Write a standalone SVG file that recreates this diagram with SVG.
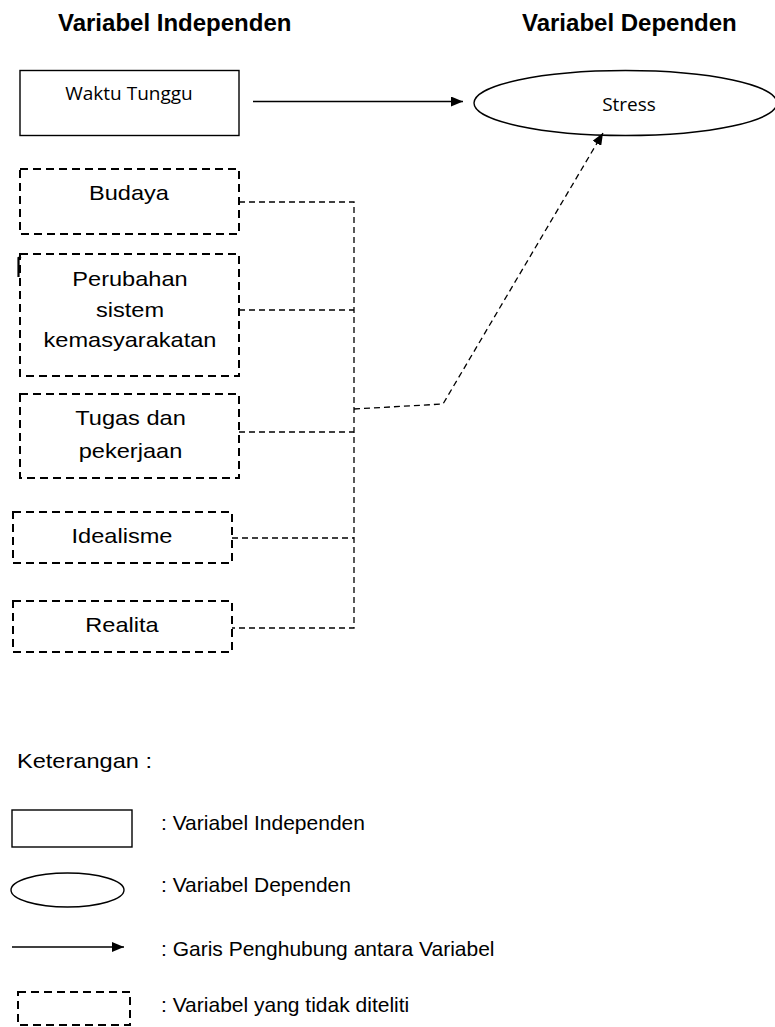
<svg xmlns="http://www.w3.org/2000/svg" width="775" height="1027" viewBox="0 0 775 1027">
<style>
.solid{fill:#fff;stroke:#000;stroke-width:1.4}
.dbox{fill:none;stroke:#000;stroke-width:2;stroke-dasharray:8 5}
.conn{fill:none;stroke:#000;stroke-width:1.3;stroke-dasharray:6 4}
.arr{fill:none;stroke:#000;stroke-width:1.5}
.t{font-family:"Liberation Sans",Arial,sans-serif;font-size:20.5px;fill:#000}
.lg{font-family:"Liberation Sans",Arial,sans-serif;font-size:21px;fill:#000}
.tc{text-anchor:middle}
.h{font-family:"Liberation Sans",Arial,sans-serif;font-size:24px;font-weight:bold;fill:#000}
.c{font-family:"Open Sans","Noto Sans",sans-serif;font-size:19px;fill:#000;text-anchor:middle}
</style>
<defs>
<marker id="ah" viewBox="0 0 12 10" refX="12" refY="5" markerWidth="12" markerHeight="10" markerUnits="userSpaceOnUse" orient="auto">
<path d="M0 0 L12 5 L0 10 Z" fill="#000"/>
</marker>
</defs>
<rect width="775" height="1027" fill="#fff"/>
<text class="h" x="58" y="31">Variabel Independen</text>
<text class="h" x="522" y="31">Variabel Dependen</text>

<g id="waktu">
<rect class="solid" x="20" y="70.5" width="219" height="65"/>
<text class="c" x="129" y="100">Waktu Tunggu</text>
</g>
<g id="stress">
<ellipse class="solid" cx="625.5" cy="103" rx="151.5" ry="32.5"/>
<text class="c" x="629" y="110.5">Stress</text>
</g>
<g id="budaya">
<rect class="dbox" x="20" y="169" width="219" height="65"/>
<text class="t tc" transform="translate(129,200) scale(1.15,1)">Budaya</text>
</g>
<g id="perubahan">
<path d="M21 257 L18.5 258 L18.5 277" fill="none" stroke="#000" stroke-width="2.2"/>
<rect class="dbox" x="20" y="254" width="219" height="122"/>
<text class="t tc" transform="translate(130,286) scale(1.15,1)">Perubahan</text>
<text class="t tc" transform="translate(130,317) scale(1.15,1)">sistem</text>
<text class="t tc" transform="translate(130,347) scale(1.15,1)">kemasyarakatan</text>
</g>
<g id="tugas">
<rect class="dbox" x="20" y="394" width="219" height="84"/>
<text class="t tc" transform="translate(130.5,425) scale(1.15,1)">Tugas dan</text>
<text class="t tc" transform="translate(130.5,457.5) scale(1.15,1)">pekerjaan</text>
</g>
<g id="idealisme">
<rect class="dbox" x="13" y="512" width="219" height="51"/>
<text class="t tc" transform="translate(122,542.5) scale(1.15,1)">Idealisme</text>
</g>
<g id="realita">
<rect class="dbox" x="13" y="601" width="219" height="51"/>
<text class="t tc" transform="translate(122,631.5) scale(1.15,1)">Realita</text>
</g>

<g id="connectors">
<line class="arr" x1="253" y1="101.5" x2="463" y2="101.5" marker-end="url(#ah)"/>
<path class="conn" d="M239 202 H354 V628 H232"/>
<path class="conn" d="M239 310 H354"/>
<path class="conn" d="M239 432 H354"/>
<path class="conn" d="M232 538 H354"/>
<path class="conn" d="M354 409 L443 404 L603 133" marker-end="url(#ah)"/>
</g>

<g id="legend">
<text class="t" transform="translate(17,768) scale(1.15,1)">Keterangan :</text>
<rect class="solid" x="12" y="810" width="120" height="37"/>
<text class="lg" x="161" y="830">: Variabel Independen</text>
<ellipse class="solid" cx="67.5" cy="890" rx="56.5" ry="17"/>
<text class="lg" x="161" y="892">: Variabel Dependen</text>
<line class="arr" x1="12" y1="947" x2="124" y2="947" marker-end="url(#ah)"/>
<text class="lg" x="161" y="956">: Garis Penghubung antara Variabel</text>
<rect class="dbox" x="18" y="992" width="112" height="33"/>
<text class="lg" x="161" y="1012">: Variabel yang tidak diteliti</text>
</g>
</svg>
